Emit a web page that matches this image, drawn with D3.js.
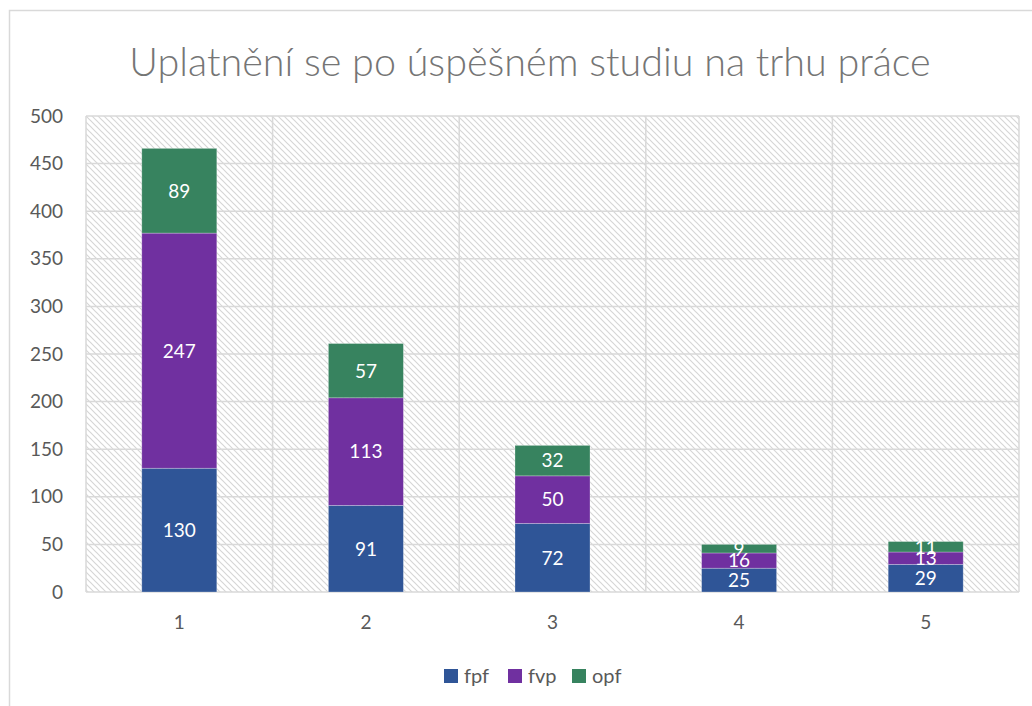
<!DOCTYPE html>
<html><head><meta charset="utf-8">
<script src="https://cdn.jsdelivr.net/npm/d3@7"></script>
<style>html,body{margin:0;padding:0;background:#fff;}svg{display:block;}</style>
</head><body>
<svg id="chart" width="1032" height="706"></svg>
<script>
const title = "Uplatnění se po úspěšném studiu na trhu práce";
const categories = ["1", "2", "3", "4", "5"];
const seriesNames = ["fpf", "fvp", "opf"];
const fpf = [130, 91, 72, 25, 29];
const fvp = [247, 113, 50, 16, 13];
const opf = [89, 57, 32, 9, 11];
const yTicks = [0, 50, 100, 150, 200, 250, 300, 350, 400, 450, 500];
const colors = ["#2F5597", "#7030A0", "#37835F"];

const svg = d3.select("#chart");
const font = "Lato, 'Open Sans', sans-serif";
const m = {left: 86, right: 1019, top: 116, bottom: 592};

// outer border
svg.append("path").attr("d", "M9.5,706 L9.5,10.5 L1032,10.5")
  .attr("fill", "none").attr("stroke", "#D9D9D9").attr("stroke-width", 1.5);

// hatch pattern
const defs = svg.append("defs");
const pat = defs.append("pattern").attr("id", "hatch").attr("patternUnits", "userSpaceOnUse")
  .attr("width", 6).attr("height", 6);
pat.append("path").attr("d", "M-1,-1 L7,7 M-7,-1 L1,7 M5,-1 L13,7")
  .attr("stroke", "#D6D6D6").attr("stroke-width", 1.2);

const x = d3.scaleBand().domain(categories).range([m.left, m.right]).paddingInner(0).paddingOuter(0);
const y = d3.scaleLinear().domain([0, 500]).range([m.bottom, m.top]);

svg.append("rect").attr("x", m.left).attr("y", m.top).attr("width", m.right - m.left)
  .attr("height", m.bottom - m.top).attr("fill", "url(#hatch)");

// gridlines horizontal
svg.append("g").selectAll("line").data(yTicks).join("line")
  .attr("x1", m.left).attr("x2", m.right).attr("y1", d => y(d)).attr("y2", d => y(d))
  .attr("stroke", "#D9D9D9").attr("stroke-width", 1.5);
// vertical gridlines at band edges
const edges = categories.map(c => x(c)).concat([x(categories[categories.length-1]) + x.bandwidth()]);
svg.append("g").selectAll("line").data(edges).join("line")
  .attr("x1", d => d).attr("x2", d => d).attr("y1", m.top).attr("y2", m.bottom)
  .attr("stroke", "#D9D9D9").attr("stroke-width", 1.5);

// y axis labels
svg.append("g").selectAll("text").data(yTicks).join("text")
  .attr("x", 63).attr("y", d => y(d)).attr("dy", "0.35em").attr("text-anchor", "end")
  .attr("font-family", font).attr("font-size", 19).attr("fill", "#595959").text(d => d);
// x axis labels
svg.append("g").selectAll("text").data(categories).join("text")
  .attr("x", d => x(d) + x.bandwidth()/2).attr("y", 629).attr("text-anchor", "middle")
  .attr("font-family", font).attr("font-size", 19).attr("fill", "#595959").text(d => d);

// stacked data
const table = categories.map((c, i) => ({cat: c, fpf: fpf[i], fvp: fvp[i], opf: opf[i]}));
const stack = d3.stack().keys(seriesNames)(table);
const barW = 75;

const layers = svg.append("g").selectAll("g").data(stack).join("g")
  .attr("fill", (d, i) => colors[i]);
layers.selectAll("rect").data(d => d).join("rect")
  .attr("x", d => x(d.data.cat) + x.bandwidth()/2 - barW/2)
  .attr("width", barW)
  .attr("y", d => y(d[1]))
  .attr("height", d => y(d[0]) - y(d[1]))
  .attr("stroke", "rgba(255,255,255,0.35)").attr("stroke-width", 0.75);

// labels
const lab = svg.append("g");
stack.forEach(s => {
  s.forEach(d => {
    lab.append("text")
      .attr("x", x(d.data.cat) + x.bandwidth()/2)
      .attr("y", (y(d[0]) + y(d[1]))/2).attr("dy", "0.36em")
      .attr("text-anchor", "middle").attr("font-family", font).attr("font-size", 19)
      .attr("fill", "#FFFFFF").text(d[1] - d[0]);
  });
});

// title
svg.append("text").attr("x", 530).attr("y", 76).attr("text-anchor", "middle")
  .attr("font-family", font).attr("font-weight", 300).attr("font-size", 39.5).attr("fill", "#757575").text(title);

// legend
const legX = [444, 508, 572];
const leg = svg.append("g").selectAll("g").data(seriesNames).join("g")
  .attr("transform", (d, i) => `translate(${legX[i]},669)`);
leg.append("rect").attr("width", 14).attr("height", 14).attr("fill", (d, i) => colors[i]);
leg.append("text").attr("x", 20).attr("y", 7).attr("dy", "0.36em")
  .attr("font-family", font).attr("font-size", 20).attr("fill", "#595959").text(d => d);
</script>
</body></html>
